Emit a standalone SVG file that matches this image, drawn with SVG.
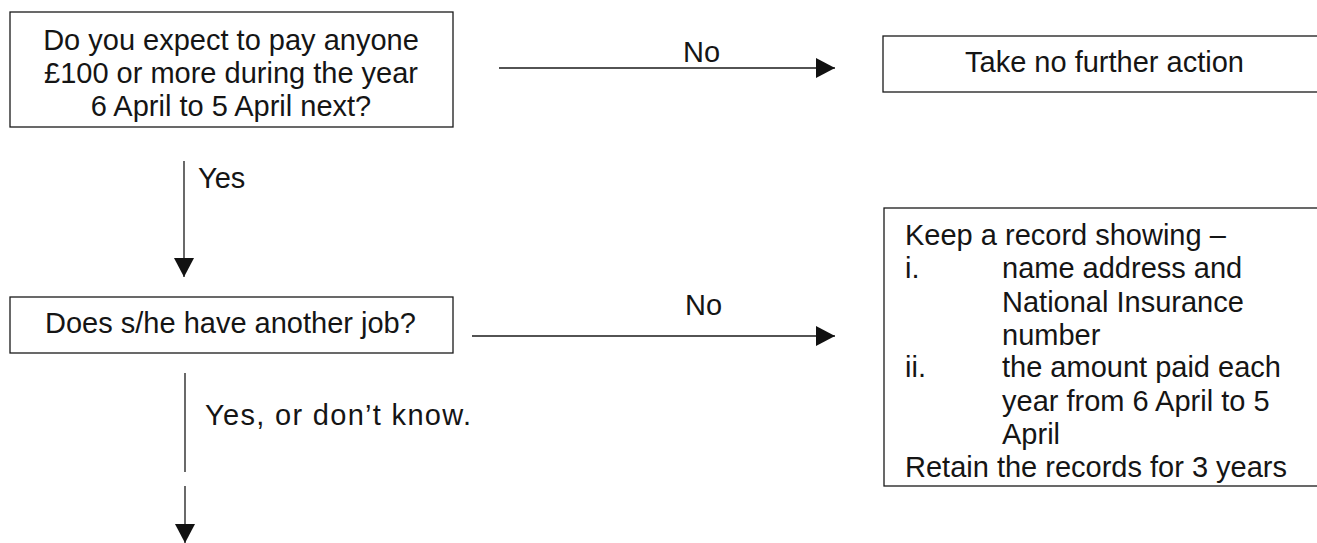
<svg xmlns="http://www.w3.org/2000/svg" width="1317" height="543" viewBox="0 0 1317 543">
  <style>
    .box { fill: #ffffff; stroke: #1a1a1a; stroke-width: 1.3; }
    .t { font-family: "Liberation Sans", Arial, sans-serif; font-size: 29px; fill: #151515; }
    .c { text-anchor: middle; }
    .edge { stroke: #1a1a1a; stroke-width: 1.3; fill: none; }
  </style>
  <defs>
    <marker id="arr" markerUnits="userSpaceOnUse" markerWidth="19" markerHeight="20" refX="19" refY="10" orient="auto">
      <path d="M0,0 L19,10 L0,20 Z" fill="#111111"/>
    </marker>
  </defs>
  <rect width="1317" height="543" fill="#ffffff"/>

  <g id="q1">
    <rect class="box" x="10" y="12" width="443" height="115"/>
    <text class="t c" x="231" y="50">Do you expect to pay anyone</text>
    <text class="t c" x="231" y="83">£100 or more during the year</text>
    <text class="t c" x="231" y="116">6 April to 5 April next?</text>
  </g>

  <g id="noaction">
    <rect class="box" x="883" y="36" width="440" height="56"/>
    <text class="t" x="965" y="72">Take no further action</text>
  </g>

  <g id="q2">
    <rect class="box" x="10" y="297" width="443" height="56"/>
    <text class="t" x="45" y="333">Does s/he have another job?</text>
  </g>

  <g id="record">
    <rect class="box" x="884" y="208" width="440" height="278"/>
    <text class="t" x="905" y="245">Keep a record showing –</text>
    <text class="t" x="905" y="278">i.</text>
    <text class="t" x="1002" y="278">name address and</text>
    <text class="t" x="1002" y="312">National Insurance</text>
    <text class="t" x="1002" y="345">number</text>
    <text class="t" x="905" y="377">ii.</text>
    <text class="t" x="1002" y="377">the amount paid each</text>
    <text class="t" x="1002" y="411">year from 6 April to 5</text>
    <text class="t" x="1002" y="444">April</text>
    <text class="t" x="905" y="477">Retain the records for 3 years</text>
  </g>

  <g id="connectors">
    <line class="edge" x1="499" y1="68" x2="835" y2="68" marker-end="url(#arr)"/>
    <text class="t" x="683" y="62">No</text>

    <line class="edge" x1="184" y1="161" x2="184" y2="277" marker-end="url(#arr)"/>
    <text class="t" x="198" y="188">Yes</text>

    <line class="edge" x1="472" y1="336" x2="835" y2="336" marker-end="url(#arr)"/>
    <text class="t" x="685" y="315">No</text>

    <line class="edge" x1="185" y1="373" x2="185" y2="472"/>
    <text class="t" x="205" y="425" textLength="266" lengthAdjust="spacing">Yes, or don’t know.</text>
    <line class="edge" x1="185" y1="486" x2="185" y2="543" marker-end="url(#arr)"/>
  </g>
</svg>
